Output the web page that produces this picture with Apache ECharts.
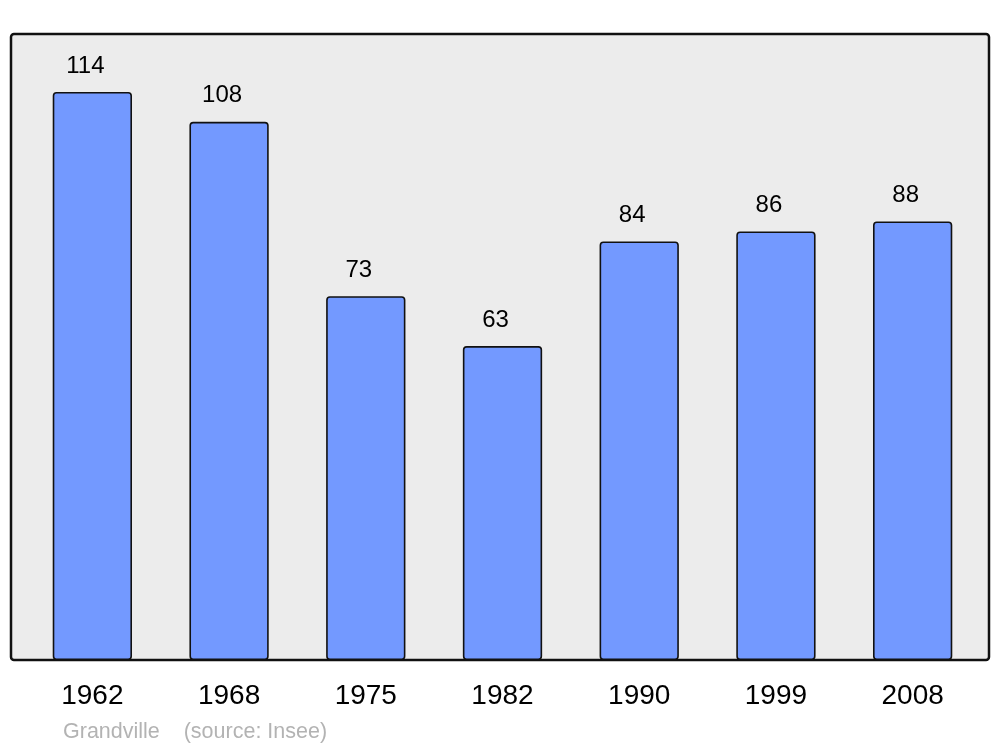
<!DOCTYPE html>
<html>
<head>
<meta charset="utf-8">
<script src="https://cdn.jsdelivr.net/npm/echarts@6/dist/echarts.min.js"></script>
<style>html,body{margin:0;padding:0;background:#fff}#c{width:1000px;height:747px}</style>
</head>
<body>
<div id="c"></div>
<script>
var years = ['1962', '1968', '1975', '1982', '1990', '1999', '2008'];
var population = [114, 108, 73, 63, 84, 86, 88];
var sourceText = 'Grandville    (source: Insee)';

var chart = echarts.init(document.getElementById('c'), null, {renderer: 'canvas'});
chart.setOption({
  animation: false,
  backgroundColor: '#ffffff',
  textStyle: {fontFamily: 'Liberation Sans, Arial, sans-serif'},
  graphic: [{
    type: 'rect', z: -10,
    shape: {x: 11, y: 34, width: 978, height: 626, r: 3},
    style: {fill: '#ececec', stroke: '#111', lineWidth: 2.5}
  }],
  title: {
    text: sourceText, left: 58, top: 716,
    textStyle: {color: '#b3b3b3', fontSize: 21.5, fontWeight: 'normal', fontFamily: 'Liberation Sans, Arial, sans-serif'}
  },
  grid: {left: 24, right: 19, top: 62, bottom: 87, containLabel: false},
  xAxis: {
    type: 'category', data: years,
    axisLine: {show: false}, axisTick: {show: false},
    axisLabel: {color: '#000', fontSize: 28, margin: 22, fontFamily: 'Liberation Sans, Arial, sans-serif'}
  },
  yAxis: {
    type: 'value', min: 0, max: 120, interval: 20, show: false,
    splitLine: {show: false}
  },
  series: [{
    type: 'bar', data: population, barWidth: '58%',
    itemStyle: {color: '#7399ff', borderColor: '#111', borderWidth: 1.6, borderRadius: 3},
    label: {show: true, position: 'top', distance: 14, offset: [-7, 0], color: '#000', fontSize: 24,
            fontFamily: 'Liberation Sans, Arial, sans-serif'}
  }]
});
</script>
</body>
</html>
